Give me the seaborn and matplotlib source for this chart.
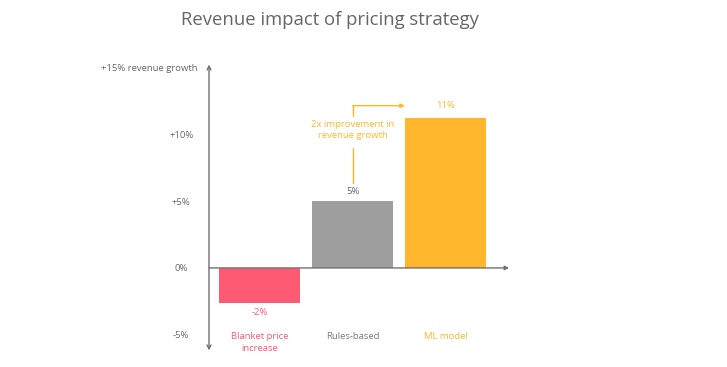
import matplotlib
matplotlib.use("Agg")
import matplotlib.pyplot as plt
import seaborn as sns

# chart data
categories = ["Blanket price\nincrease", "Rules-based", "ML model"]
values = [-2.6, 5.0, 11.3]
value_labels = ["-2%", "5%", "11%"]
bar_colors = ["#ff5a73", "#9e9e9e", "#ffb62d"]
label_colors = ["#ff5a73", "#7a7a7a", "#ffb62d"]
ytick_values = [-5, 0, 5, 10]
ytick_labels = ["-5%", "0%", "+5%", "+10%"]
top_label = "+15% revenue growth"
callout = "2x improvement in\nrevenue growth"

sns.set_style("white")
plt.rcParams["font.family"] = ["Open Sans", "DejaVu Sans"]

axis_grey = "#707070"
text_grey = "#666666"
fs = 6.8

fig = plt.figure(figsize=(7.27, 3.67), dpi=100)
ax = fig.add_axes([209 / 727, (367 - 352) / 367, (510 - 209) / 727, (352 - 63) / 367])

sns.barplot(x=categories, y=values, hue=categories, palette=bar_colors,
            saturation=1, width=0.87, legend=False, ax=ax, linewidth=0)

ax.set_xlim(-0.543, 2.69)
ax.set_ylim(-6.32, 15.41)
for s in ax.spines.values():
    s.set_visible(False)
ax.set_xticks([])
ax.set_yticks(ytick_values)
ax.set_yticklabels(ytick_labels, fontsize=fs, color=text_grey)
ax.tick_params(axis="y", length=0, pad=20)
for t in ax.get_yticklabels():
    t.set_ha("center")
ax.set_xlabel("")
ax.set_ylabel("")

# axes with arrows
ax.annotate("", xy=(-0.543, 15.3), xytext=(-0.543, -6.2),
            arrowprops=dict(arrowstyle="<->", color=axis_grey, lw=1.0,
                            shrinkA=0, shrinkB=0, mutation_scale=7),
            annotation_clip=False)
ax.annotate("", xy=(2.68, 0), xytext=(-0.543, 0),
            arrowprops=dict(arrowstyle="-|>", color=axis_grey, lw=1.0,
                            shrinkA=0, shrinkB=0, mutation_scale=6),
            annotation_clip=False)
ax.annotate(top_label, xy=(-0.543, 15.0), xytext=(-8, 0), textcoords="offset points",
            ha="right", va="center", fontsize=fs, color=text_grey, annotation_clip=False)

# value labels
for i, (v, lab) in enumerate(zip(values, value_labels)):
    off = 7 if v >= 0 else -7
    if i == 2:
        off = 9
    ax.annotate(lab, xy=(i, v), xytext=(0, off), textcoords="offset points",
                ha="center", va="center", fontsize=fs, color=text_grey if i == 1 else label_colors[i])

# category labels
for i, (c, col) in enumerate(zip(categories, label_colors)):
    ax.text(i, -4.85, c, ha="center", va="top", fontsize=fs, color=col, linespacing=1.3)

# callout
orange = "#ffb62d"
ax.plot([1, 1], [6.4, 9.0], color=orange, lw=1.0)
ax.text(1, 10.35, callout, ha="center", va="center", fontsize=fs, color=orange,
        linespacing=1.3)
ax.plot([1, 1], [11.45, 12.2], color=orange, lw=1.0)
ax.annotate("", xy=(1.56, 12.2), xytext=(1, 12.2),
            arrowprops=dict(arrowstyle="-|>", color=orange, lw=1.0,
                            shrinkA=0, shrinkB=0, mutation_scale=6))

fig.text(330 / 727, 1 - 20 / 367, "Revenue impact of pricing strategy", ha="center",
         va="center", fontsize=13.3, color=text_grey)

fig.savefig("out.png", dpi=100, facecolor="white")
